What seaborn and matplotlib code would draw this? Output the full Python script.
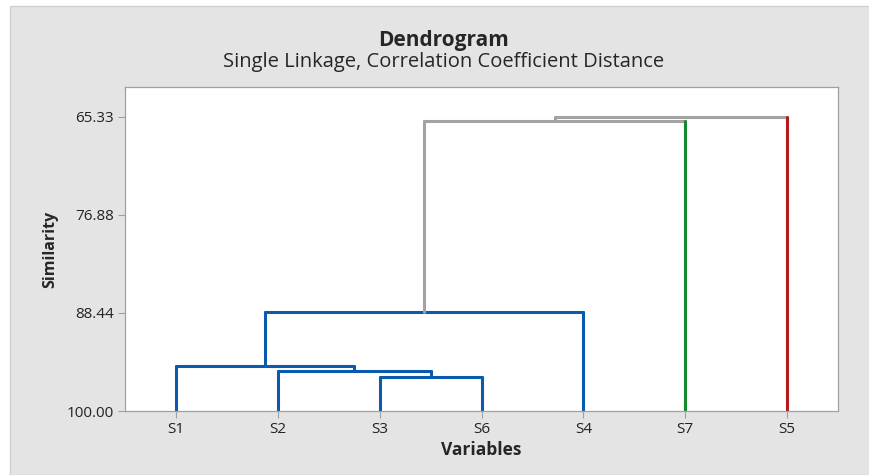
import pandas as pd
import matplotlib.pyplot as plt
import seaborn as sns
from matplotlib.patches import Rectangle

# Folhas na ordem do dendrograma
folhas = ["S1", "S2", "S3", "S6", "S4", "S7", "S5"]

# Fusões: (esquerda, direita, similaridade)
fusoes_esq = ["S3", "S2", "S1", "c3", "c4", "c5"]
fusoes_dir = ["S6", "c1", "c2", "S4", "S7", "S5"]
fusoes_sim = [95.96, 95.25, 94.66, 88.29, 65.77, 65.33]

# Grupo de cor de cada folha e de cada fusão
cor_folha = {"S1": "azul", "S2": "azul", "S3": "azul", "S6": "azul",
             "S4": "azul", "S7": "verde", "S5": "vermelho"}
cor_fusao = ["azul", "azul", "azul", "azul", "cinza", "cinza"]

ticks_y = [65.33, 76.88, 88.44, 100.00]

paleta = {"azul": "#0a5bb0", "cinza": "#a3a3a3",
          "verde": "#138a2c", "vermelho": "#b31b1b"}

# Montar os segmentos (formato em "U" invertido) a partir das fusões
pos = {f: i + 1 for i, f in enumerate(folhas)}
alt = {f: 100.0 for f in folhas}
linhas = []
seg = 0
for k, (a, b, s) in enumerate(zip(fusoes_esq, fusoes_dir, fusoes_sim)):
    no = f"c{k + 1}"
    for filho in (a, b):
        # folha mantém a própria cor; nó interno herda a cor da fusão
        g = cor_folha.get(filho, cor_fusao[k])
        linhas.append({"seg": seg, "x": pos[filho], "y": alt[filho], "grupo": g})
        linhas.append({"seg": seg, "x": pos[filho], "y": s, "grupo": g})
        seg += 1
    linhas.append({"seg": seg, "x": pos[a], "y": s, "grupo": cor_fusao[k]})
    linhas.append({"seg": seg, "x": pos[b], "y": s, "grupo": cor_fusao[k]})
    seg += 1
    pos[no] = (pos[a] + pos[b]) / 2
    alt[no] = s
df = pd.DataFrame(linhas)

sns.set_style("white")
plt.rcParams["font.family"] = ["Open Sans", "DejaVu Sans"]

fig = plt.figure(figsize=(8.7, 4.75), dpi=100)
fig.patches.append(Rectangle((0.011, 0), 0.989, 0.987, transform=fig.transFigure,
                             facecolor="#e4e4e4", edgecolor="#d0d0d0", lw=1, zorder=-5))
ax = fig.add_axes([0.1437, 0.1347, 0.8195, 0.6821])
ax.set_facecolor("white")

sns.lineplot(data=df, x="x", y="y", units="seg", hue="grupo", palette=paleta,
             estimator=None, sort=False, legend=False, linewidth=2.2, ax=ax)

ax.set_xlim(0.5, 7.5)
ax.set_ylim(100, 61.8)
ax.set_xticks(range(1, len(folhas) + 1))
ax.set_xticklabels(folhas)
ax.set_yticks(ticks_y)
ax.set_yticklabels([f"{v:.2f}" for v in ticks_y])
ax.tick_params(axis="both", direction="out", length=5, width=0.8, color="#a0a0a0",
               labelsize=11, labelcolor="#222222", left=True, bottom=True, pad=3)
for sp in ax.spines.values():
    sp.set_color("#a0a0a0")
    sp.set_linewidth(0.9)

ax.set_xlabel("Variables", fontsize=12.5, fontweight="bold", labelpad=3)
ax.set_ylabel("Similarity", fontsize=11.5, fontweight="bold", labelpad=6)

fig.text(0.51, 0.915, "Dendrogram", ha="center", va="center", fontsize=15, fontweight="bold")
fig.text(0.51, 0.869, "Single Linkage, Correlation Coefficient Distance", ha="center",
         va="center", fontsize=14.5)

fig.savefig("out.png", dpi=100)
